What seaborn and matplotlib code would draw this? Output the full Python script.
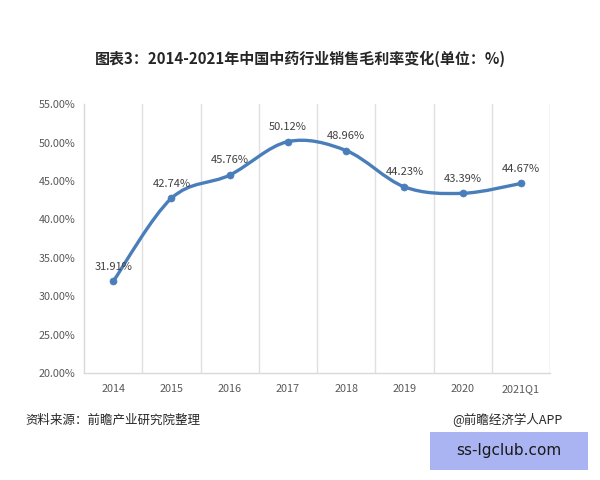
import numpy as np
import pandas as pd
import seaborn as sns
import matplotlib.pyplot as plt
from matplotlib.path import Path
from matplotlib.patches import PathPatch, FancyBboxPatch

years = ['2014', '2015', '2016', '2017', '2018', '2019', '2020', '2021Q1']
margin = [31.91, 42.74, 45.76, 50.12, 48.96, 44.23, 43.39, 44.67]
yticks = [20, 25, 30, 35, 40, 45, 50, 55]

df = pd.DataFrame({'year': years, 'margin': margin, 'pos': np.arange(len(years))})

sns.set_style('white')
plt.rcParams['font.family'] = ['Noto Sans CJK SC', 'DejaVu Sans']

fig = plt.figure(figsize=(6, 4.8), dpi=100)
ax = fig.add_axes([0.14, 0.223, 0.7767, 0.56])

line_color = '#4a7ebb'

# smoothed line (catmull-rom style bezier, like excel's smoothed line)
pts = df[['pos', 'margin']].to_numpy(dtype=float)
verts = [tuple(pts[0])]
codes = [Path.MOVETO]
n = len(pts)
for i in range(n - 1):
    p0 = pts[i - 1] if i > 0 else pts[i]
    p1 = pts[i]
    p2 = pts[i + 1]
    p3 = pts[i + 2] if i + 2 < n else pts[i + 1]
    c1 = p1 + (p2 - p0) / 6
    c2 = p2 - (p3 - p1) / 6
    verts += [tuple(c1), tuple(c2), tuple(p2)]
    codes += [Path.CURVE4] * 3
ax.add_patch(PathPatch(Path(verts, codes), facecolor='none', edgecolor=line_color,
                       lw=2.4, capstyle='round', joinstyle='round', zorder=3))

sns.scatterplot(data=df, x='pos', y='margin', ax=ax, color=line_color, s=26,
                edgecolor=line_color, zorder=4, legend=False)

for _, r in df.iterrows():
    ax.annotate(f"{r['margin']:.2f}%", (r['pos'], r['margin']), xytext=(0, 7),
                textcoords='offset points', ha='center', va='bottom',
                fontsize=8, color='#404040')

ax.set_xlim(-0.5, len(years) - 0.5)
ax.set_ylim(20, 55)
ax.set_xticks(df['pos'])
ax.set_xticklabels(years)
ax.set_yticks(yticks)
ax.set_yticklabels([f'{v:.2f}%' for v in yticks])
ax.set_xticks(np.arange(0.5, len(years)), minor=True)
ax.grid(False)
ax.grid(True, which='minor', axis='x', color='#e0e0e0', lw=1)
ax.axvline(len(years) - 0.5, color='#e0e0e0', lw=1)
ax.tick_params(axis='both', which='both', length=0, labelsize=7.8, labelcolor='#595959')
ax.tick_params(axis='x', pad=8)
ax.tick_params(axis='y', pad=6)
ax.set_xlabel('')
ax.set_ylabel('')
for s in ['top', 'right']:
    ax.spines[s].set_visible(False)
for s in ['left', 'bottom']:
    ax.spines[s].set_color('#d9d9d9')
    ax.spines[s].set_linewidth(1)

fig.text(0.5, 0.878, '图表3：2014-2021年中国中药行业销售毛利率变化(单位：%)',
         ha='center', va='center', fontsize=10.8, fontweight='bold', color='#262626')
fig.text(0.042, 0.125, '资料来源：前瞻产业研究院整理', ha='left', va='center',
         fontsize=9, color='#262626')
fig.text(0.938, 0.125, '@前瞻经济学人APP', ha='right', va='center',
         fontsize=9, color='#262626')

fig.patches.append(FancyBboxPatch((0.717, 0.021), 0.263, 0.079, boxstyle='square,pad=0',
                                  transform=fig.transFigure, facecolor='#aab4f2',
                                  edgecolor='none', zorder=5))
fig.text(0.848, 0.061, 'ss-lgclub.com', ha='center', va='center', fontsize=11,
         color='#1a1a1a', family=['DejaVu Sans'], zorder=6)

fig.savefig('out.png', dpi=100, facecolor='white')
